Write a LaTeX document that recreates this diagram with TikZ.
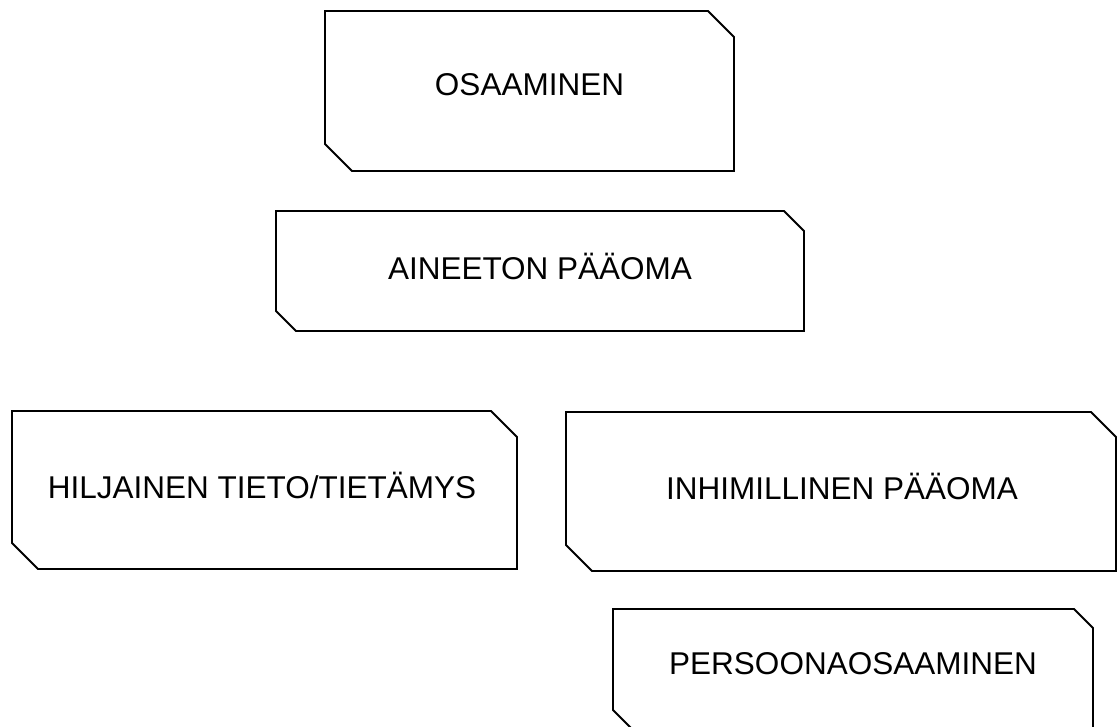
\documentclass[tikz,border=0pt]{standalone}
\usepackage{fontspec}
\setmainfont{Liberation Sans}
\begin{document}
\begin{tikzpicture}[x=1pt,y=-1pt,
  boxline/.style={draw=black, line width=1.9pt, line join=miter},
  lbl/.style={font=\fontsize{31.5}{36}\selectfont, anchor=base, inner sep=0pt}]
\useasboundingbox (0,0) rectangle (1117,726);
% OSAAMINEN
\draw[boxline] (325,11) -- (708,11) -- (734,37) -- (734,171) -- (352,171) -- (325,144) -- cycle;
\node[lbl] (osaaminen) at (529.5,95) {OSAAMINEN};
% AINEETON PÄÄOMA
\draw[boxline] (276,211) -- (784,211) -- (804,231) -- (804,331) -- (296,331) -- (276,311) -- cycle;
\node[lbl] (aineeton) at (540,279) {AINEETON PÄÄOMA};
% HILJAINEN TIETO/TIETÄMYS
\draw[boxline] (12,411) -- (491,411) -- (517,437) -- (517,569) -- (38,569) -- (12,543) -- cycle;
\node[lbl] (hiljainen) at (262,498) {HILJAINEN TIETO/TIETÄMYS};
% INHIMILLINEN PÄÄOMA
\draw[boxline] (566,412) -- (1091,412) -- (1116,437) -- (1116,571) -- (592,571) -- (566,545) -- cycle;
\node[lbl] (inhimillinen) at (842,499) {INHIMILLINEN PÄÄOMA};
% PERSOONAOSAAMINEN
\draw[boxline] (613,609) -- (1074,609) -- (1093,628) -- (1093,730) -- (633,730) -- (613,710) -- cycle;
\node[lbl] (persoona) at (853,674) {PERSOONAOSAAMINEN};
\end{tikzpicture}
\end{document}
